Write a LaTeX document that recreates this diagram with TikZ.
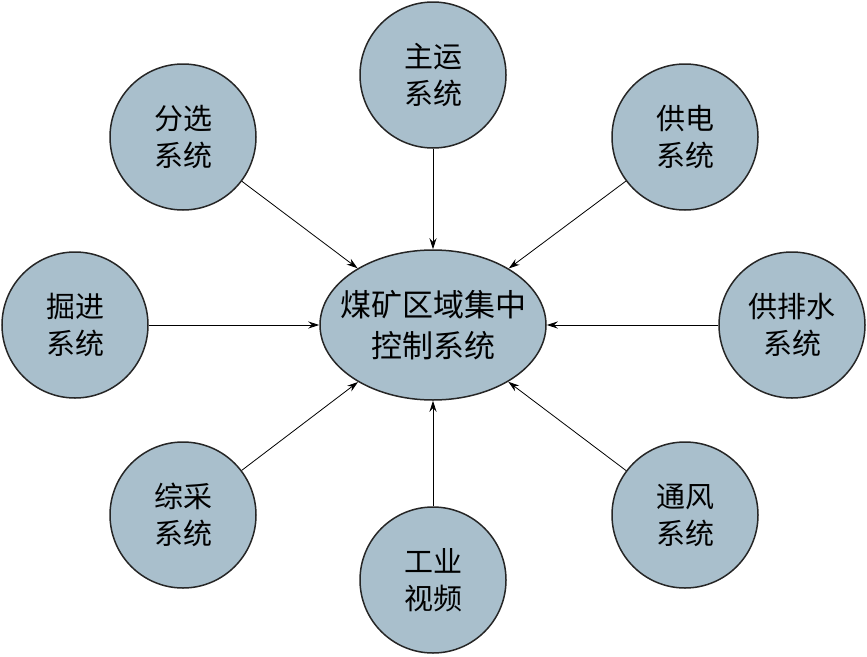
\documentclass[tikz,border=0pt]{standalone}
\usepackage{fontspec}
\setmainfont{Noto Sans CJK SC}
\usetikzlibrary{arrows.meta,shapes.geometric}
\begin{document}
\begin{tikzpicture}[x=1pt,y=-1pt,
  sub/.style={circle,draw=black!85,line width=1.5pt,fill=sysfill,minimum size=146pt,inner sep=0pt,align=center,font=\fontsize{29}{37}\selectfont},
  hub/.style={ellipse,draw=black!85,line width=1.5pt,fill=sysfill,minimum width=226pt,minimum height=150pt,inner sep=0pt},
  hubtext/.style={align=center,inner sep=0pt,font=\fontsize{31}{41}\selectfont},
  link/.style={-{Stealth[length=11pt,width=7pt]},line width=0.8pt}]
\definecolor{sysfill}{HTML}{A9BFCC}
\useasboundingbox (0,0) rectangle (867,656);
\node[hub] (c) at (433,325) {};
\node[hubtext] (ct) at (c.center) {煤矿区域集中\\控制系统};
\node[sub] (a) at (433,75) {主运\\系统};
\node[sub] (b) at (183,137) {分选\\系统};
\node[sub] (d) at (685,137) {供电\\系统};
\node[sub] (e) at (75,325) {掘进\\系统};
\node[sub] (f) at (792,325) {供排水\\系统};
\node[sub] (g) at (183,515) {综采\\系统};
\node[sub] (h) at (433,580) {工业\\视频};
\node[sub] (i) at (685,515) {通风\\系统};
\foreach \n in {a,b,d,e,f,g,h,i} \draw[link] (\n) -- (c);
\end{tikzpicture}
\end{document}
